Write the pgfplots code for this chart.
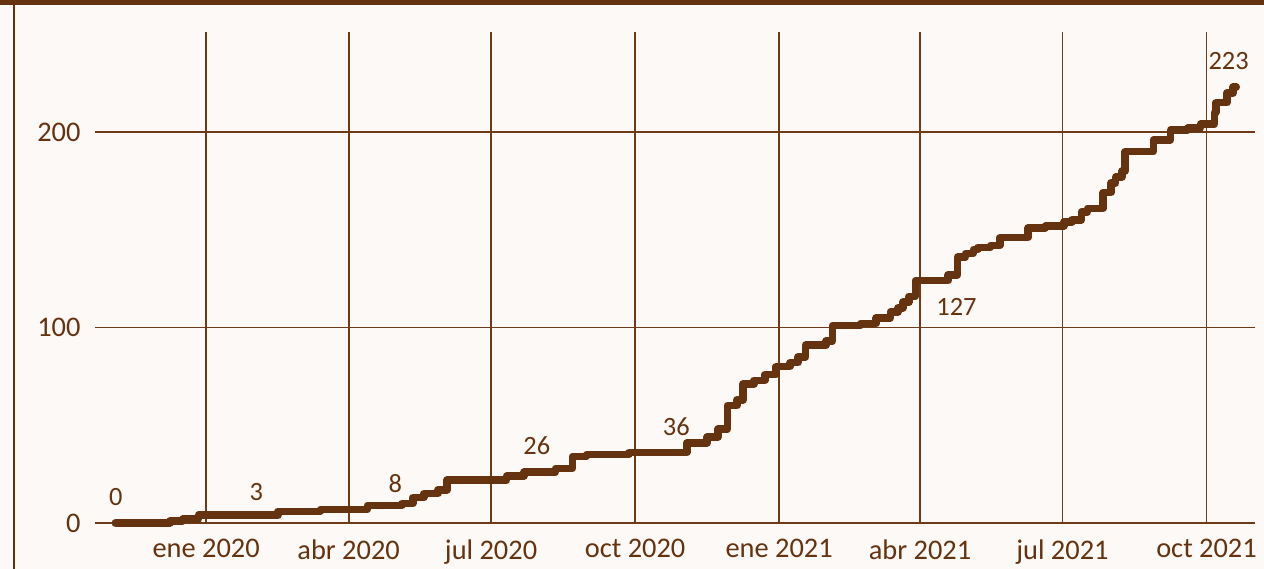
\documentclass[border=0pt]{standalone}
\usepackage{fontspec}
\setmainfont{Carlito}
\usepackage{pgfplots}
\pgfplotsset{compat=1.18}
\definecolor{bg}{HTML}{FCF9F6}
\definecolor{brn}{HTML}{663311}
\definecolor{grd}{HTML}{6E3B18}
\begin{document}
\begin{tikzpicture}[x=1bp,y=1bp]
\fill[bg] (0,0) rectangle (1264,569);
\draw[brn, line width=5bp] (0,566.6) -- (1264,566.6);
\draw[brn, line width=2bp] (14.3,0) -- (14.3,569);
\begin{axis}[
  at={(95bp,46bp)}, anchor=south west,
  scale only axis, width=1160bp, height=491bp,
  xmin=-71, xmax=670, ymin=0, ymax=251.2,
  clip=false,
  axis line style={draw=none},
  major tick length=0pt,
  grid=major,
  major grid style={grd, line width=1.8bp},
  xtick={0,91,182,274,366,456,547,639},
  xticklabels={ene 2020,abr 2020,jul 2020,oct 2020,ene 2021,abr 2021,jul 2021,oct 2021},
  ytick={0,100,200},
  /pgf/number format/assume math mode=true,
  xticklabel style={font=\fontsize{28.5}{34}\selectfont, text=brn, yshift=-13bp},
  yticklabel style={font=\fontsize{28.5}{34}\selectfont, text=brn, xshift=-11bp},
]
\addplot[const plot, brn, line width=7.5bp, line cap=round, line join=round] coordinates {
(-58,0) (-23,1) (-15,2) (-5,4) (46,6) (73,7) (103,9) (125,10) (132,13) (139,15) (148,17) (154,22) (192,24) (203,26) (223,28) (234,34) (243,35) (270,36) (307,41) (320,44) (327,48) (333,60) (339,63) (343,71) (350,73) (357,76) (364,80) (373,82) (378,85) (383,91) (396,93) (400,101) (418,102) (428,105) (437,108) (442,110) (445,113) (449,116) (453,124) (474,127) (480,136) (485,138) (490,140) (493,141) (501,142) (507,146) (525,151) (536,152) (548,154) (553,155) (559,159) (563,161) (573,169) (578,174) (581,177) (585,180) (587,190) (605,196) (616,201) (627,202) (635,204) (644,210) (645,215) (652,220) (656,223) (658,223)
};
\begin{scope}[every node/.style={inner sep=0pt, text=brn, font=\fontsize{26.5}{32}\selectfont}]
\node at (axis cs:-57.7,13.3) {0};
\node at (axis cs:32.0,15.9) {3};
\node at (axis cs:120.8,20.2) {8};
\node at (axis cs:211.2,39.4) {26};
\node at (axis cs:300.3,49.1) {36};
\node at (axis cs:479.3,110.5) {127};
\node at (axis cs:653.1,236.3) {223};
\end{scope}
\end{axis}
\pgfresetboundingbox
\useasboundingbox (0,0) rectangle (1264,569);
\end{tikzpicture}
\end{document}
